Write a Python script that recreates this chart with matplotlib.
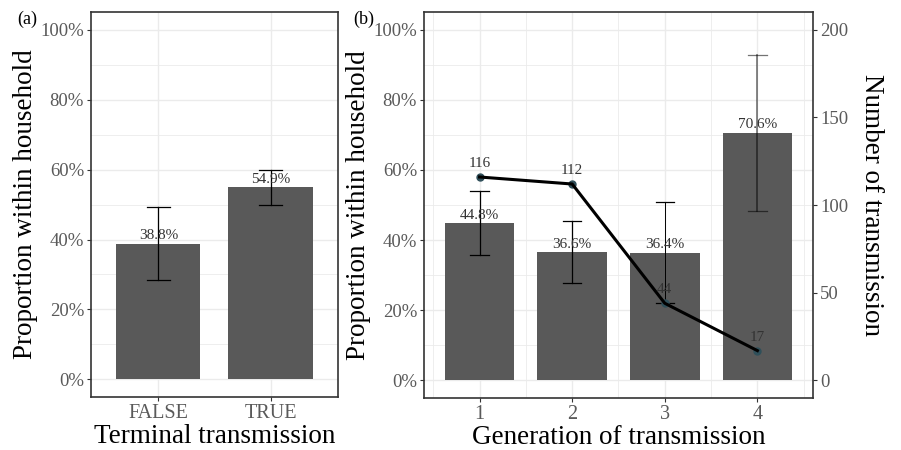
import matplotlib
matplotlib.use('Agg')
import matplotlib.pyplot as plt
import numpy as np

plt.rcParams['font.family'] = ['Liberation Serif', 'DejaVu Serif']

# panel (a) data
terminal = ['FALSE', 'TRUE']
prop_a = [38.8, 54.9]
lo_a = [28.4, 50.0]
hi_a = [49.3, 59.8]

# panel (b) data
generation = [1, 2, 3, 4]
prop_b = [44.8, 36.6, 36.4, 70.6]
lo_b = [35.8, 27.8, 22.1, 48.3]
hi_b = [54.0, 45.5, 50.8, 92.9]
n_trans = [116, 112, 44, 17]

bar_col = '#595959'
tick_col = '#5a5a5a'
grid_col = '#ebebeb'

fig = plt.figure(figsize=(9.01, 4.5), dpi=100)
axa = fig.add_axes([0.101, 0.118, 0.274, 0.855])
axb = fig.add_axes([0.4706, 0.1156, 0.4317, 0.8574])


def style(ax):
    ax.set_ylim(-5, 105)
    ax.set_yticks([0, 20, 40, 60, 80, 100])
    ax.set_yticklabels(['%d%%' % v for v in [0, 20, 40, 60, 80, 100]])
    ax.set_yticks([10, 30, 50, 70, 90], minor=True)
    ax.grid(which='major', color=grid_col, lw=1.0, zorder=0)
    ax.grid(which='minor', axis='y', color=grid_col, lw=0.6, zorder=0)
    ax.set_axisbelow(True)
    for s in ax.spines.values():
        s.set_color('#333333')
        s.set_linewidth(1.2)
    ax.tick_params(which='major', length=3, width=0.8, color='#333333',
                   labelcolor=tick_col, labelsize=13.5, pad=2)
    ax.tick_params(axis='x', labelsize=14.5)
    ax.tick_params(which='minor', length=0)
    ax.set_ylabel('Proportion within household', fontsize=19.5, labelpad=2)


# ---- (a)
xa = np.arange(1, len(terminal) + 1)
style(axa)
axa.bar(xa, prop_a, width=0.75, color=bar_col, zorder=2)
for x, l, h in zip(xa, lo_a, hi_a):
    axa.plot([x, x], [l, h], color='black', lw=0.9, zorder=3)
    axa.plot([x - 0.1, x + 0.1], [l, l], color='black', lw=0.9, zorder=3)
    axa.plot([x - 0.1, x + 0.1], [h, h], color='black', lw=0.9, zorder=3)
for x, p in zip(xa, prop_a):
    axa.annotate('%.1f%%' % p, (x, p), xytext=(0, 1), textcoords='offset points',
                 ha='center', va='bottom', fontsize=11, color='#333333', zorder=4)
axa.set_xlim(0.4, 2.6)
axa.set_xticks(xa)
axa.set_xticklabels(terminal)
axa.set_xlabel('Terminal transmission', fontsize=19.5, labelpad=1)
fig.text(0.019, 0.958, '(a)', fontsize=13, ha='left', va='center')

# ---- (b)
style(axb)
axb.bar(generation, prop_b, width=0.75, color=bar_col, zorder=2)
eb_alpha = [1, 1, 1, 0.55]
eb_lw = [0.9, 0.9, 0.7, 1.2]
for x, l, h, a, w in zip(generation, lo_b, hi_b, eb_alpha, eb_lw):
    axb.plot([x, x], [l, h], color='black', lw=w, alpha=a, zorder=3)
    axb.plot([x - 0.1, x + 0.1], [l, l], color='black', lw=0.9, alpha=a, zorder=3)
    axb.plot([x - 0.1, x + 0.1], [h, h], color='black', lw=0.9, alpha=a, zorder=3)
for x, p in zip(generation, prop_b):
    axb.annotate('%.1f%%' % p, (x, p), xytext=(0, 1), textcoords='offset points',
                 ha='center', va='bottom', fontsize=11, color='#333333', zorder=4)
axb.set_xlim(0.4, 4.6)
axb.set_xticks(generation)
axb.set_xticks([0.5, 1.5, 2.5, 3.5, 4.5], minor=True)
axb.grid(which='minor', axis='x', color=grid_col, lw=0.6, zorder=0)
axb.set_xlabel('Generation of transmission', fontsize=19.5, labelpad=1)

ax2 = axb.twinx()
ax2.set_ylim(-10, 210)
ax2.set_yticks([0, 50, 100, 150, 200])
ax2.tick_params(length=3, width=0.8, color='#333333', labelcolor=tick_col,
                labelsize=13.5, pad=2)
for s in ax2.spines.values():
    s.set_visible(False)
ax2.plot(generation, n_trans, 'o', color='#2f4f5a', ms=5, zorder=4)
ax2.plot(generation, n_trans, color='black', lw=2.2, zorder=5)
for x, n in zip(generation, n_trans):
    ax2.annotate(str(n), (x, n), xytext=(0, 5), textcoords='offset points',
                 ha='center', va='bottom', fontsize=11, color='#333333', zorder=6)
ax2.set_ylabel('Number of transmission', fontsize=19.5, rotation=270, labelpad=26)
fig.text(0.392, 0.958, '(b)', fontsize=13, ha='left', va='center')

fig.savefig('out.png', dpi=100)
